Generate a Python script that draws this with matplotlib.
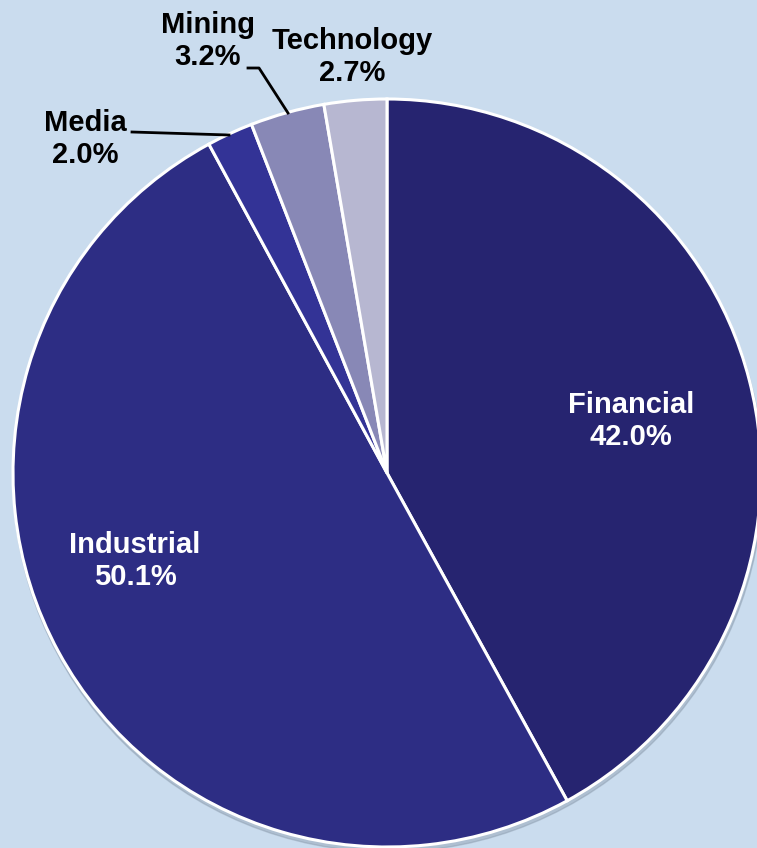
import matplotlib.pyplot as plt
from matplotlib.patches import Circle

plt.rcParams['font.family'] = ['Liberation Sans', 'DejaVu Sans']

sectors = ["Financial", "Industrial", "Media", "Mining", "Technology"]
shares = [42.0, 50.1, 2.0, 3.2, 2.7]
colors = ["#262470", "#2d2d84", "#333396", "#8888b6", "#b7b7d1"]
bg = "#cadcee"

W, H = 757, 848
fig = plt.figure(figsize=(W / 100, H / 100), dpi=100, facecolor=bg)
ax = fig.add_axes([0, 0, 1, 1])
ax.set_facecolor(bg)

cx, cy, r = 387, H - 473, 374

# soft shadow under the pie
ax.add_patch(Circle((cx + 1, cy - 4), r + 1, color="#8494a6", alpha=0.4, zorder=0))

ax.pie(shares, colors=colors, startangle=90, counterclock=False,
       center=(cx, cy), radius=r, frame=True,
       wedgeprops=dict(edgecolor="white", linewidth=2.2))
ax.set_xlim(0, W)
ax.set_ylim(0, H)
ax.set_aspect("equal")
ax.axis("off")

labels = [f"{s}\n{v:.1f}%" for s, v in zip(sectors, shares)]
# label positions in pixel coords (x, y from top)
pos = [(631, 421), (135, 561), (85, 139), (208, 41), (352, 57)]
tcol = ["white", "white", "black", "black", "black"]
for lab, (x, y), c in zip(labels, pos, tcol):
    ax.text(x, H - y, lab, ha="center", va="center", fontsize=21,
            fontweight="bold", color=c, linespacing=1.18, zorder=5)

# leader lines
ax.plot([132, 229], [H - 132, H - 135], color="black", lw=2, zorder=5)
ax.plot([248, 259, 288], [H - 68, H - 68, H - 113], color="black", lw=2, zorder=5)

fig.savefig("out.png", dpi=100, facecolor=bg)
